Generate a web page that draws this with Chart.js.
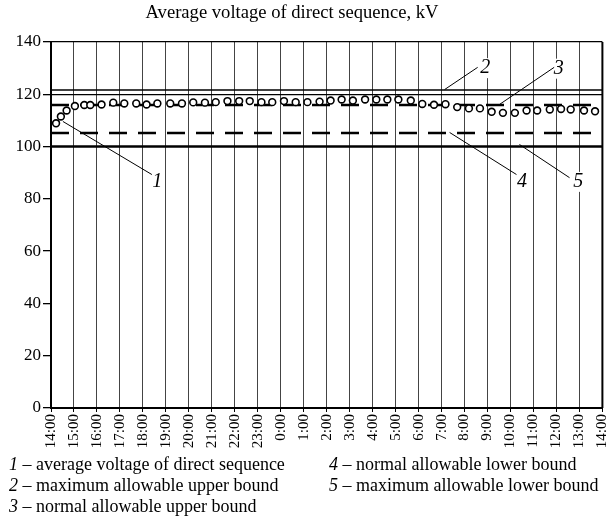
<!DOCTYPE html>
<html>
<head>
<meta charset="utf-8">
<script src="https://cdn.jsdelivr.net/npm/chart.js@4/dist/chart.umd.min.js"></script>
<style>
  body { margin: 0; background: #fff; }
  #wrap { position: relative; width: 608px; height: 520px; overflow: hidden; font-family: "Liberation Serif", "Times New Roman", serif; }
  #chart { position: absolute; left: 0; top: 0; }
  .leg { position: absolute; font-size: 18px; line-height: 21px; color: #000; white-space: nowrap; }
  .leg i { font-style: italic; }
</style>
</head>
<body>
<div id="wrap">
  <canvas id="chart" width="608" height="455"></canvas>
  <div class="leg" style="left:9px;top:454px"><i>1</i> – average voltage of direct sequence</div>
  <div class="leg" style="left:329px;top:454px"><i>4</i> – normal allowable lower bound</div>
  <div class="leg" style="left:9px;top:475px"><i>2</i> – maximum allowable upper bound</div>
  <div class="leg" style="left:329px;top:475px"><i>5</i> – maximum allowable lower bound</div>
  <div class="leg" style="left:9px;top:496px"><i>3</i> – normal allowable upper bound</div>
</div>
<script>
// подписи оси X (часы от начала суток наблюдения)
const hourLabels = ['14:00', '15:00', '16:00', '17:00', '18:00', '19:00', '20:00', '21:00', '22:00', '23:00',
  '0:00', '1:00', '2:00', '3:00', '4:00', '5:00', '6:00', '7:00', '8:00', '9:00', '10:00', '11:00', '12:00', '13:00', '14:00'];

// время замера, ч от 14:00
const measureHours = [0.22, 0.43, 0.68, 1.04, 1.45, 1.71, 2.2, 2.71, 3.19, 3.71, 4.16, 4.63, 5.19, 5.7, 6.19, 6.7,
  7.17, 7.68, 8.19, 8.65, 9.16, 9.63, 10.14, 10.65, 11.16, 11.69, 12.17, 12.65, 13.14, 13.67, 14.16, 14.64, 15.12,
  15.66, 16.16, 16.67, 17.17, 17.68, 18.19, 18.67, 19.18, 19.67, 20.19, 20.7, 21.16, 21.71, 22.2, 22.62, 23.2, 23.68];

// среднее напряжение прямой последовательности, кВ
const avgVoltage = [108.9, 111.5, 113.8, 115.5, 115.9, 115.9, 116.1, 116.8, 116.5, 116.5, 116.1, 116.5, 116.5, 116.5, 116.9, 116.8,
  117.0, 117.4, 117.4, 117.4, 117.0, 117.0, 117.4, 117.0, 117.0, 117.2, 117.6, 118.0, 117.6, 118.0, 118.0, 118.0, 118.0,
  117.6, 116.3, 116.0, 116.2, 115.1, 114.6, 114.6, 113.3, 112.9, 112.9, 113.8, 113.8, 114.2, 114.4, 114.2, 113.8, 113.5];

// границы, кВ
const maxUpper = 121.6;
const normUpper = 115.9;
const normLower = 105.2;
const maxLower = 100;

// выноски: номер, точка на линии [ч, кВ], конец выноски [ч, кВ], подпись [ч, кВ]
const calloutNums = ['1', '2', '3', '4', '5'];
const calloutFrom = [[0.52, 109.6], [17.13, 121.8], [19.52, 116.1], [17.35, 105.4], [20.39, 100.8]];
const calloutTo = [[4.39, 89.3], [18.57, 130.3], [21.9, 130.3], [20.26, 89.3], [22.57, 88.1]];
const calloutText = [[4.62, 86.5], [18.9, 130.0], [22.1, 129.8], [20.5, 86.5], [22.95, 86.5]];

const flat = v => [{ x: 0, y: v }, { x: 24, y: v }];
const serif = '"Liberation Serif", "Times New Roman", serif';

const extras = {
  id: 'extras',
  afterDraw(chart) {
    const { ctx, chartArea: a, scales: { x, y } } = chart;
    ctx.save();
    // рамка справа
    ctx.strokeStyle = '#000';
    ctx.lineWidth = 2;
    ctx.beginPath();
    ctx.moveTo(a.right, a.top);
    ctx.lineTo(a.right, a.bottom);
    ctx.stroke();
    // заголовок
    ctx.font = '18.6px ' + serif;
    ctx.textAlign = 'center';
    ctx.textBaseline = 'middle';
    ctx.fillStyle = '#000';
    ctx.fillText('Average voltage of direct sequence, kV', 292, 13);
    // выноски
    ctx.lineWidth = 1;
    ctx.font = 'italic 20px ' + serif;
    calloutNums.forEach((n, i) => {
      const tx = x.getPixelForValue(calloutText[i][0]);
      const ty = y.getPixelForValue(calloutText[i][1]);
      const w = ctx.measureText(n).width;
      ctx.fillStyle = '#fff';
      ctx.fillRect(tx - w / 2 - 2, ty - 10, w + 4, 20);
      ctx.beginPath();
      ctx.moveTo(x.getPixelForValue(calloutFrom[i][0]), y.getPixelForValue(calloutFrom[i][1]));
      ctx.lineTo(x.getPixelForValue(calloutTo[i][0]), y.getPixelForValue(calloutTo[i][1]));
      ctx.stroke();
      ctx.fillStyle = '#000';
      ctx.fillText(n, tx, ty);
    });
    ctx.restore();
  }
};

new Chart(document.getElementById('chart'), {
  type: 'scatter',
  data: {
    datasets: [
      {
        label: '1',
        data: measureHours.map((h, i) => ({ x: h, y: avgVoltage[i] })),
        showLine: false,
        pointStyle: 'circle',
        pointRadius: 3.4,
        borderWidth: 1.6,
        borderColor: '#000',
        backgroundColor: '#fff',
        order: 0
      },
      { label: '2', data: flat(maxUpper), showLine: true, borderColor: '#000', borderWidth: 1.5, pointRadius: 0, order: 1 },
      { label: '3', data: flat(normUpper), showLine: true, borderColor: '#000', borderWidth: 2.5, borderDash: [18, 11], pointRadius: 0, order: 1 },
      { label: '4', data: flat(normLower), showLine: true, borderColor: '#000', borderWidth: 2.5, borderDash: [18, 11], pointRadius: 0, order: 1 },
      { label: '5', data: flat(maxLower), showLine: true, borderColor: '#000', borderWidth: 2.5, pointRadius: 0, order: 1 }
    ]
  },
  options: {
    responsive: false,
    animation: false,
    layout: { padding: { top: 42, right: 4, left: 0, bottom: 0 } },
    plugins: { legend: { display: false }, tooltip: { enabled: false } },
    scales: {
      x: {
        type: 'linear',
        min: 0,
        max: 24,
        afterFit: s => { s.height = 47; s.paddingRight = 0; s.paddingLeft = 0; },
        border: { color: '#000', width: 2 },
        grid: { color: '#444', lineWidth: 1, tickLength: 4, tickColor: '#000' },
        ticks: {
          stepSize: 1,
          autoSkip: false,
          maxRotation: 90,
          minRotation: 90,
          padding: 2,
          color: '#000',
          font: { family: serif, size: 15 },
          callback: v => hourLabels[v]
        }
      },
      y: {
        min: 0,
        max: 140,
        afterFit: s => { s.width = 51; },
        border: { color: '#000', width: 2 },
        grid: {
          color: c => (c.tick && (c.tick.value === 120 || c.tick.value === 140)) ? '#000' : 'rgba(0,0,0,0)',
          lineWidth: 1.3,
          tickLength: 8,
          tickColor: '#000',
          tickWidth: 1.3
        },
        ticks: {
          stepSize: 20,
          padding: 2,
          color: '#000',
          font: { family: serif, size: 17 }
        }
      }
    }
  },
  plugins: [extras]
});
</script>
</body>
</html>
